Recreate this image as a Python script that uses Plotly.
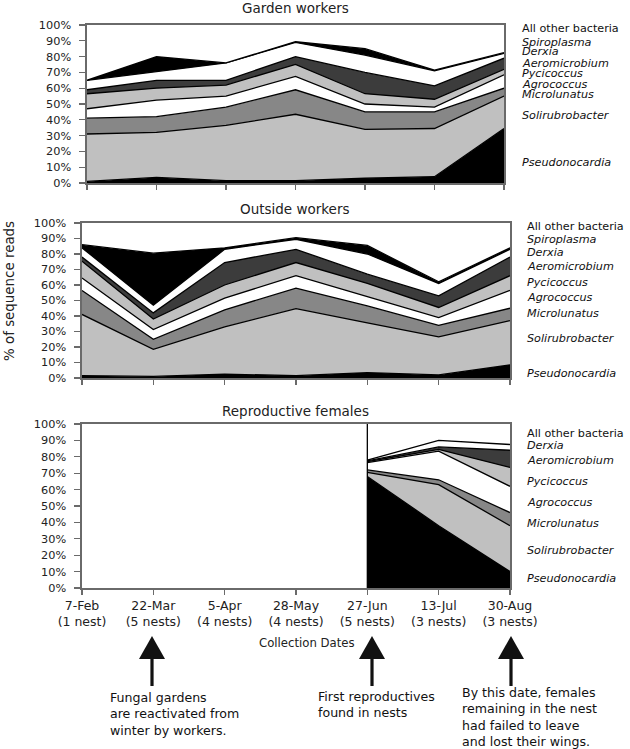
import plotly.graph_objects as go

W, H = 630, 749

# ---------------- data ----------------
DATES = ["7-Feb", "22-Mar", "5-Apr", "28-May", "27-Jun", "13-Jul", "30-Aug"]
NESTS = ["(1 nest)", "(5 nests)", "(4 nests)", "(4 nests)", "(5 nests)", "(3 nests)", "(3 nests)"]
Y_TICKS = [0, 10, 20, 30, 40, 50, 60, 70, 80, 90, 100]
Y_TICK_LABELS = ["0%", "10%", "20%", "30%", "40%", "50%", "60%", "70%", "80%", "90%", "100%"]

TAXA = ["Pseudonocardia", "Solirubrobacter", "Microlunatus", "Agrococcus", "Pycicoccus",
        "Aeromicrobium", "Derxia", "Spiroplasma", "All other bacteria"]

# Garden workers (% of sequence reads)
GARDEN_PSEUDONOCARDIA = [1, 3.5, 1.5, 1.5, 3, 4, 34.5]
GARDEN_SOLIRUBROBACTER = [30, 28.5, 35, 42, 31, 30.5, 20.5]
GARDEN_MICROLUNATUS = [10, 10, 11.5, 15.5, 11, 10.5, 5]
GARDEN_AGROCOCCUS = [6, 10.5, 7, 8.5, 5, 3, 8.5]
GARDEN_PYCICOCCUS = [9.5, 7.5, 7, 7.5, 6.5, 5, 3.5]
GARDEN_AEROMICROBIUM = [2.5, 5, 3, 5, 13.5, 8.5, 7]
GARDEN_DERXIA = [6, 5.5, 11, 9, 11, 9.5, 3]
GARDEN_SPIROPLASMA = [0, 9.5, 0, 0.5, 4, 0.5, 0.5]
GARDEN_OTHER = [35, 20, 24, 10.5, 15, 28.5, 17.5]

# Outside workers
OUTSIDE_PSEUDONOCARDIA = [1.5, 1, 2.5, 1.5, 3.5, 2, 8.5]
OUTSIDE_SOLIRUBROBACTER = [39.5, 17.5, 30.5, 43.3, 32, 24.5, 28.5]
OUTSIDE_MICROLUNATUS = [15.5, 6.5, 11, 13.2, 11, 7.5, 8]
OUTSIDE_AGROCOCCUS = [8, 6.3, 7.5, 8, 6, 5, 11.5]
OUTSIDE_PYCICOCCUS = [10.8, 6.7, 8.5, 8.5, 8.5, 6.5, 9.5]
OUTSIDE_AEROMICROBIUM = [2.7, 4, 14.5, 8.5, 6, 7.5, 12]
OUTSIDE_DERXIA = [6, 5, 8.5, 6.5, 13, 8, 5]
OUTSIDE_SPIROPLASMA = [2, 33.5, 1, 1, 5.5, 1, 1]
OUTSIDE_OTHER = [14, 19.5, 16, 9.5, 14.5, 38, 16]

# Reproductive females (only sampled from 27-Jun)
FEMALE_DATES = ["27-Jun", "13-Jul", "30-Aug"]
FEMALE_PSEUDONOCARDIA = [68, 38, 10]
FEMALE_SOLIRUBROBACTER = [2.5, 25, 28]
FEMALE_MICROLUNATUS = [1.5, 3, 8]
FEMALE_AGROCOCCUS = [4.5, 17.5, 16]
FEMALE_PYCICOCCUS = [0.5, 1, 11.5]
FEMALE_AEROMICROBIUM = [0.5, 1.5, 10.5]
FEMALE_DERXIA = [0.5, 4, 3.5]
FEMALE_OTHER = [22, 10, 12.5]

GARDEN = dict(zip(TAXA, [GARDEN_PSEUDONOCARDIA, GARDEN_SOLIRUBROBACTER, GARDEN_MICROLUNATUS,
                         GARDEN_AGROCOCCUS, GARDEN_PYCICOCCUS, GARDEN_AEROMICROBIUM,
                         GARDEN_DERXIA, GARDEN_SPIROPLASMA, GARDEN_OTHER]))
OUTSIDE = dict(zip(TAXA, [OUTSIDE_PSEUDONOCARDIA, OUTSIDE_SOLIRUBROBACTER, OUTSIDE_MICROLUNATUS,
                          OUTSIDE_AGROCOCCUS, OUTSIDE_PYCICOCCUS, OUTSIDE_AEROMICROBIUM,
                          OUTSIDE_DERXIA, OUTSIDE_SPIROPLASMA, OUTSIDE_OTHER]))
FEMALE_TAXA = [t for t in TAXA if t != "Spiroplasma"]
FEMALES = dict(zip(FEMALE_TAXA, [FEMALE_PSEUDONOCARDIA, FEMALE_SOLIRUBROBACTER, FEMALE_MICROLUNATUS,
                                 FEMALE_AGROCOCCUS, FEMALE_PYCICOCCUS, FEMALE_AEROMICROBIUM,
                                 FEMALE_DERXIA, FEMALE_OTHER]))

# ---------------- styling ----------------
FILL = {
    "Pseudonocardia": "#000000",
    "Solirubrobacter": "#c0c0c0",
    "Microlunatus": "#878787",
    "Agrococcus": "#ffffff",
    "Pycicoccus": "#c0c0c0",
    "Aeromicrobium": "#3c3c3c",
    "Derxia": "#ffffff",
    "Spiroplasma": "#000000",
    "All other bacteria": "#ffffff",
}
FONT = "DejaVu Sans"
BORDER = "#6a6a6a"


def px_x(x):
    """page pixel -> paper fraction"""
    return x / W


def px_y(y):
    return 1 - y / H


fig = go.Figure()

panels = [
    ("Garden workers", GARDEN, list(range(len(DATES))), "x", "y"),
    ("Outside workers", OUTSIDE, list(range(len(DATES))), "x2", "y2"),
    ("Reproductive females", FEMALES, [DATES.index(d) for d in FEMALE_DATES], "x3", "y3"),
]

for title, series, xs, xa, ya in panels:
    for name, vals in series.items():
        top = name == "All other bacteria"
        fig.add_trace(go.Scatter(
            x=xs, y=vals, name=name, mode="lines",
            stackgroup=ya, xaxis=xa, yaxis=ya,
            line=dict(color="#000000", width=0 if top else 1.3),
            fillcolor=FILL[name], hoverinfo="skip", showlegend=False,
        ))

# vertical edge where female sampling begins
start = DATES.index(FEMALE_DATES[0])
fig.add_shape(type="line", xref="x3", yref="y3", x0=start, x1=start, y0=0, y1=100,
              line=dict(color="#000000", width=1.3))

# axes geometry (page pixels)
geo = {
    "": dict(x=(87, 504), y=(25, 183)),
    "2": dict(x=(82, 510), y=(223, 378)),
    "3": dict(x=(82, 510), y=(424, 588)),
}
ticktext = [f"{d}<br>{n}" for d, n in zip(DATES, NESTS)]
for k, g in geo.items():
    fig.update_layout(**{
        f"xaxis{k}": dict(
            domain=[px_x(g["x"][0]), px_x(g["x"][1])], anchor=f"y{k}",
            range=[0, len(DATES) - 1], tickmode="array", tickvals=list(range(len(DATES))),
            ticktext=ticktext, showticklabels=(k == "3"),
            ticks="outside", ticklen=5, tickcolor=BORDER, tickwidth=1.2,
            showline=True, mirror=True, linecolor=BORDER, linewidth=1.6,
            showgrid=False, zeroline=False, fixedrange=True, automargin=False,
            tickfont=dict(family=FONT, size=12.5, color="#222222"),
        ),
        f"yaxis{k}": dict(
            domain=[px_y(g["y"][1]), px_y(g["y"][0])], anchor=f"x{k}",
            range=[0, 100], tickmode="array", tickvals=Y_TICKS, ticktext=Y_TICK_LABELS,
            ticks="outside", ticklen=6, tickcolor=BORDER, tickwidth=1.2,
            ticklabelstandoff=6,
            showline=True, mirror=True, linecolor=BORDER, linewidth=1.6,
            showgrid=False, zeroline=False, fixedrange=True, automargin=False,
            tickfont=dict(family=FONT, size=11.3, color="#222222"),
        ),
    })

ann = []
# panel titles
for (title, *_), yc in zip(panels, [8, 209, 411]):
    ann.append(dict(text=title, x=px_x(295), y=px_y(yc), xref="paper", yref="paper",
                    xanchor="center", yanchor="middle", showarrow=False,
                    font=dict(family=FONT, size=13.5, color="#222222")))

# right-hand taxon labels
label_pos = [
    (520, GARDEN, [163, 115, 95, 84, 74, 63, 52, 42.5, 28]),
    (525, OUTSIDE, [373, 338, 313, 297, 282, 266, 252, 239, 226]),
    (525, FEMALES, [578, 550, 523, 503, 481, 460, 445, 433]),
]
for xl, series, ys in label_pos:
    for name, yc in zip(series.keys(), ys):
        txt = name if name == "All other bacteria" else f"<i>{name}</i>"
        ann.append(dict(text=txt, x=px_x(xl), y=px_y(yc), xref="paper", yref="paper",
                        xanchor="left", yanchor="middle", showarrow=False,
                        font=dict(family=FONT, size=11.2, color="#111111")))

ann.append(dict(text="% of sequence reads", x=px_x(9), y=px_y(291), xref="paper", yref="paper",
                xanchor="center", yanchor="middle", showarrow=False, textangle=-90,
                font=dict(family=FONT, size=13.4, color="#222222")))
ann.append(dict(text="Collection Dates", x=px_x(307), y=px_y(643), xref="paper", yref="paper",
                xanchor="center", yanchor="middle", showarrow=False,
                font=dict(family=FONT, size=11.7, color="#222222")))

notes = [
    (108, 713.5, "Fungal gardens<br>are reactivated from<br>winter by workers."),
    (316, 704, "First reproductives<br>found in nests"),
    (460, 717, "By this date, females<br>remaining in the nest<br>had failed to leave<br>and lost their wings."),
]
for xl, yc, txt in notes:
    ann.append(dict(text=txt, x=px_x(xl), y=px_y(yc), xref="paper", yref="paper",
                    xanchor="left", yanchor="middle", align="left", showarrow=False,
                    font=dict(family=FONT, size=12.6, color="#111111")))

# event arrows (triangle head + shaft)
shapes = []
for xc in [152, 372, 511]:
    head = (f"M {px_x(xc)} {px_y(636)} L {px_x(xc - 13)} {px_y(659)} "
            f"L {px_x(xc + 13)} {px_y(659)} Z")
    shapes.append(dict(type="path", path=head, xref="paper", yref="paper",
                       fillcolor="#111111", line=dict(width=0)))
    shapes.append(dict(type="rect", xref="paper", yref="paper",
                       x0=px_x(xc - 1.6), x1=px_x(xc + 1.6), y0=px_y(686), y1=px_y(655),
                       fillcolor="#111111", line=dict(width=0)))

fig.update_layout(
    width=W, height=H, margin=dict(l=0, r=0, t=0, b=0, pad=0, autoexpand=False),
    paper_bgcolor="white", plot_bgcolor="white",
    annotations=ann,
)
for s in shapes:
    fig.add_shape(**s)

# remove the browser's default 8px body margin so the figure sits at the page origin
fig.write_html("out.html", config={"displayModeBar": False, "staticPlot": True},
               post_script="document.body.style.margin='0';")
